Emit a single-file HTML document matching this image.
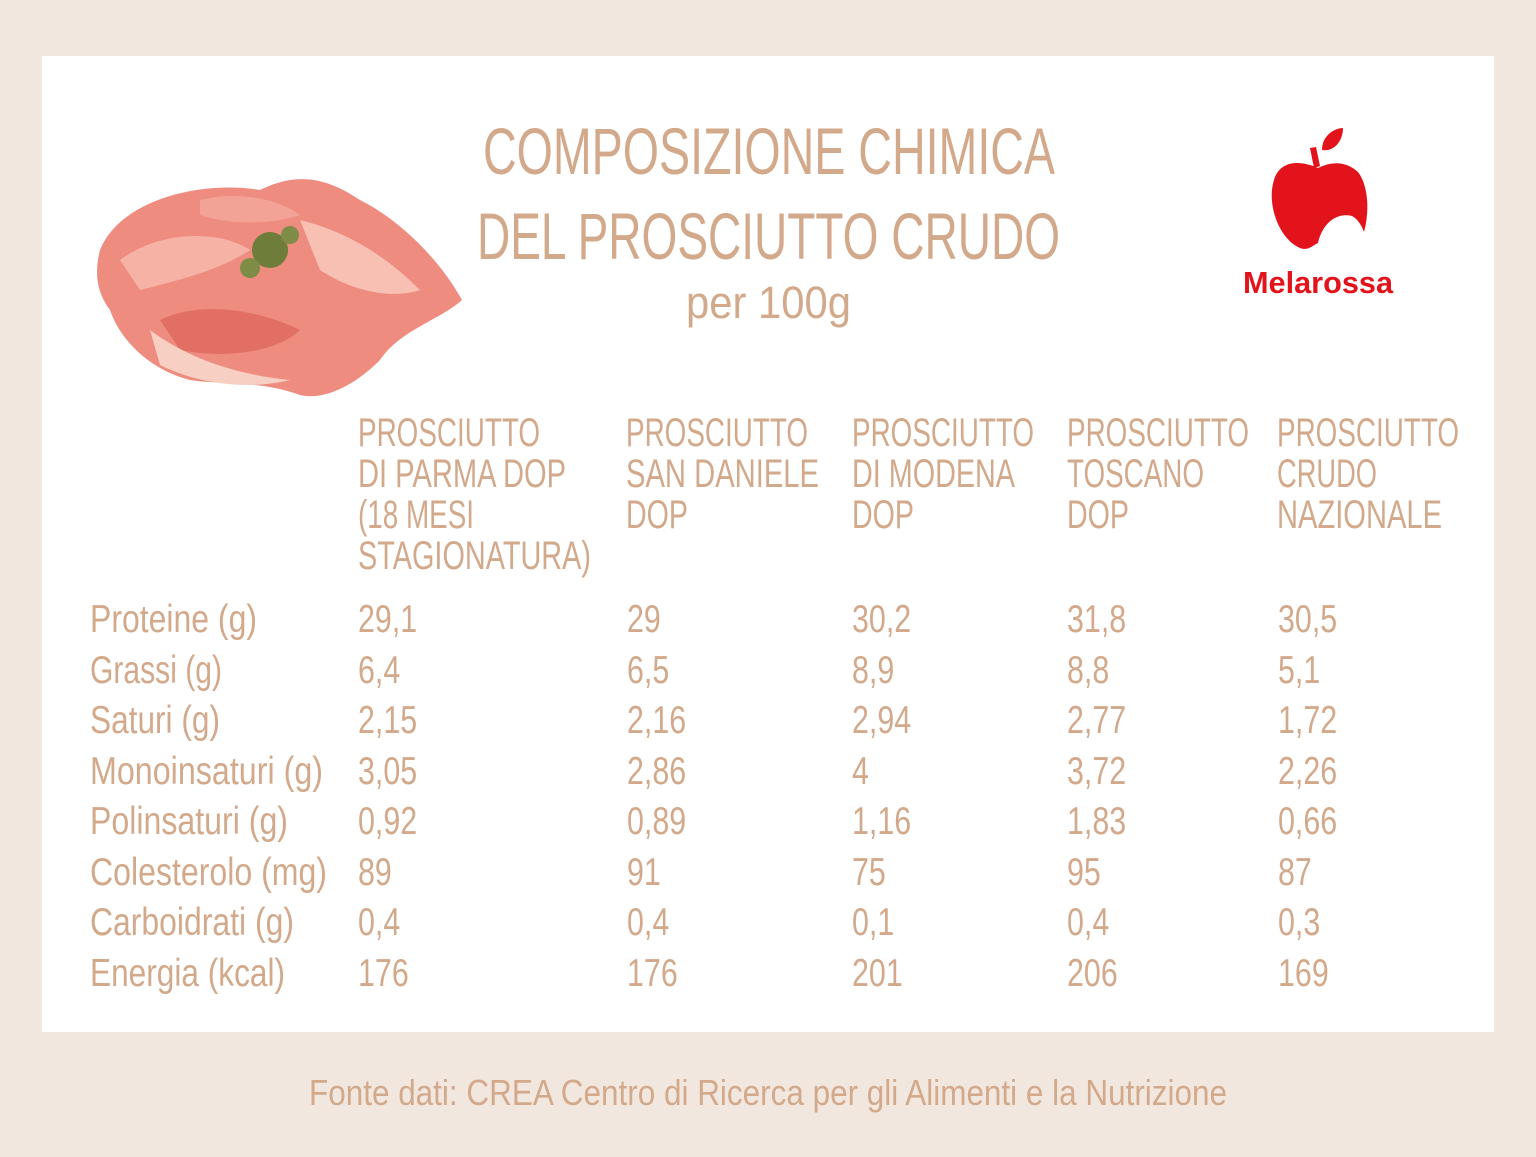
<!DOCTYPE html>
<html><head><meta charset="utf-8"><style>
html,body{margin:0;padding:0;background:#f2e7de;}
svg{display:block}
text{font-family:"Liberation Sans",sans-serif;fill:#d3a98b;}
</style></head><body>
<svg width="1536" height="1157" viewBox="0 0 1536 1157" xmlns="http://www.w3.org/2000/svg">
<rect width="1536" height="1157" fill="#f2e7de"/>
<rect x="42" y="56" width="1452" height="976" fill="#ffffff"/>

<!-- prosciutto illustration -->
<g>
<path d="M100 250 C120 200 200 180 260 190 C300 170 330 180 360 200 C400 220 440 260 462 300 C440 320 400 330 380 360 C350 390 320 400 300 395 C260 380 220 385 190 380 C150 370 120 340 110 310 C95 290 95 270 100 250Z" fill="#ee8c80"/>
<path d="M120 260 C160 230 220 230 250 250 C220 270 180 280 140 290Z" fill="#f6b2a5"/>
<path d="M160 320 C200 300 260 310 300 330 C280 350 230 360 180 350Z" fill="#e26f64"/>
<path d="M300 220 C340 230 380 250 420 290 C390 300 350 290 320 270Z" fill="#f7c0b2"/>
<path d="M200 200 C240 190 280 200 300 215 C270 225 230 225 200 215Z" fill="#f3a395"/>
<path d="M150 330 C190 360 240 375 290 380 C250 390 200 385 160 365Z" fill="#f8cfc3"/>
<circle cx="270" cy="250" r="18" fill="#6e7d3a"/>
<circle cx="250" cy="268" r="10" fill="#7f8c45"/>
<circle cx="290" cy="235" r="9" fill="#7f8c45"/>
</g>

<!-- title -->
<text x="483" y="174" font-size="66" textLength="572" lengthAdjust="spacingAndGlyphs">COMPOSIZIONE CHIMICA</text>
<text x="477" y="259" font-size="66" textLength="583" lengthAdjust="spacingAndGlyphs">DEL PROSCIUTTO CRUDO</text>
<text x="686" y="318" font-size="45" textLength="165" lengthAdjust="spacingAndGlyphs">per 100g</text>

<!-- logo -->
<g fill="#e3131b">
<path d="M1318 168 C1300 160 1280 160 1274 180 C1266 205 1280 240 1300 248 C1308 251 1312 246 1318 243 C1322 225 1335 212 1352 216 C1360 220 1364 232 1364 232 C1370 210 1368 185 1358 172 C1345 160 1330 162 1318 168Z"/>
<path d="M1314 168 L1310 148 L1316 147 L1320 166Z"/>
<path d="M1322 150 C1322 135 1335 128 1343 128 C1343 140 1335 152 1322 150Z"/>
</g>
<text x="1243" y="293" font-size="31" font-weight="bold" style="fill:#e3131b" textLength="150" lengthAdjust="spacingAndGlyphs">Melarossa</text>

<!-- headers -->
<g font-size="40">
<text x="358" y="446" textLength="182" lengthAdjust="spacingAndGlyphs">PROSCIUTTO</text>
<text x="358" y="487" textLength="208" lengthAdjust="spacingAndGlyphs">DI PARMA DOP</text>
<text x="358" y="528" textLength="116" lengthAdjust="spacingAndGlyphs">(18 MESI</text>
<text x="358" y="569" textLength="233" lengthAdjust="spacingAndGlyphs">STAGIONATURA)</text>

<text x="626" y="446" textLength="182" lengthAdjust="spacingAndGlyphs">PROSCIUTTO</text>
<text x="626" y="487" textLength="193" lengthAdjust="spacingAndGlyphs">SAN DANIELE</text>
<text x="626" y="528" textLength="62" lengthAdjust="spacingAndGlyphs">DOP</text>

<text x="852" y="446" textLength="182" lengthAdjust="spacingAndGlyphs">PROSCIUTTO</text>
<text x="852" y="487" textLength="163" lengthAdjust="spacingAndGlyphs">DI MODENA</text>
<text x="852" y="528" textLength="62" lengthAdjust="spacingAndGlyphs">DOP</text>

<text x="1067" y="446" textLength="182" lengthAdjust="spacingAndGlyphs">PROSCIUTTO</text>
<text x="1067" y="487" textLength="137" lengthAdjust="spacingAndGlyphs">TOSCANO</text>
<text x="1067" y="528" textLength="62" lengthAdjust="spacingAndGlyphs">DOP</text>

<text x="1277" y="446" textLength="182" lengthAdjust="spacingAndGlyphs">PROSCIUTTO</text>
<text x="1277" y="487" textLength="100" lengthAdjust="spacingAndGlyphs">CRUDO</text>
<text x="1277" y="528" textLength="165" lengthAdjust="spacingAndGlyphs">NAZIONALE</text>
</g>

<!-- row labels -->
<g font-size="39">
<text x="90" y="632" textLength="167" lengthAdjust="spacingAndGlyphs">Proteine (g)</text>
<text x="90" y="683" textLength="132" lengthAdjust="spacingAndGlyphs">Grassi (g)</text>
<text x="90" y="733" textLength="130" lengthAdjust="spacingAndGlyphs">Saturi (g)</text>
<text x="90" y="784" textLength="233" lengthAdjust="spacingAndGlyphs">Monoinsaturi (g)</text>
<text x="90" y="834" textLength="198" lengthAdjust="spacingAndGlyphs">Polinsaturi (g)</text>
<text x="90" y="885" textLength="237" lengthAdjust="spacingAndGlyphs">Colesterolo (mg)</text>
<text x="90" y="935" textLength="204" lengthAdjust="spacingAndGlyphs">Carboidrati (g)</text>
<text x="90" y="986" textLength="195" lengthAdjust="spacingAndGlyphs">Energia (kcal)</text>
</g>

<!-- values -->
<g font-size="39" transform="scale(1,1)">
<g id="c1">
<text transform="translate(358,632) scale(0.78,1)">29,1</text>
<text transform="translate(358,683) scale(0.78,1)">6,4</text>
<text transform="translate(358,733) scale(0.78,1)">2,15</text>
<text transform="translate(358,784) scale(0.78,1)">3,05</text>
<text transform="translate(358,834) scale(0.78,1)">0,92</text>
<text transform="translate(358,885) scale(0.78,1)">89</text>
<text transform="translate(358,935) scale(0.78,1)">0,4</text>
<text transform="translate(358,986) scale(0.78,1)">176</text>
</g>
<text transform="translate(627,632) scale(0.78,1)">29</text>
<text transform="translate(627,683) scale(0.78,1)">6,5</text>
<text transform="translate(627,733) scale(0.78,1)">2,16</text>
<text transform="translate(627,784) scale(0.78,1)">2,86</text>
<text transform="translate(627,834) scale(0.78,1)">0,89</text>
<text transform="translate(627,885) scale(0.78,1)">91</text>
<text transform="translate(627,935) scale(0.78,1)">0,4</text>
<text transform="translate(627,986) scale(0.78,1)">176</text>

<text transform="translate(852,632) scale(0.78,1)">30,2</text>
<text transform="translate(852,683) scale(0.78,1)">8,9</text>
<text transform="translate(852,733) scale(0.78,1)">2,94</text>
<text transform="translate(852,784) scale(0.78,1)">4</text>
<text transform="translate(852,834) scale(0.78,1)">1,16</text>
<text transform="translate(852,885) scale(0.78,1)">75</text>
<text transform="translate(852,935) scale(0.78,1)">0,1</text>
<text transform="translate(852,986) scale(0.78,1)">201</text>

<text transform="translate(1067,632) scale(0.78,1)">31,8</text>
<text transform="translate(1067,683) scale(0.78,1)">8,8</text>
<text transform="translate(1067,733) scale(0.78,1)">2,77</text>
<text transform="translate(1067,784) scale(0.78,1)">3,72</text>
<text transform="translate(1067,834) scale(0.78,1)">1,83</text>
<text transform="translate(1067,885) scale(0.78,1)">95</text>
<text transform="translate(1067,935) scale(0.78,1)">0,4</text>
<text transform="translate(1067,986) scale(0.78,1)">206</text>

<text transform="translate(1278,632) scale(0.78,1)">30,5</text>
<text transform="translate(1278,683) scale(0.78,1)">5,1</text>
<text transform="translate(1278,733) scale(0.78,1)">1,72</text>
<text transform="translate(1278,784) scale(0.78,1)">2,26</text>
<text transform="translate(1278,834) scale(0.78,1)">0,66</text>
<text transform="translate(1278,885) scale(0.78,1)">87</text>
<text transform="translate(1278,935) scale(0.78,1)">0,3</text>
<text transform="translate(1278,986) scale(0.78,1)">169</text>
</g>

<text x="309" y="1105" font-size="36" textLength="918" lengthAdjust="spacingAndGlyphs">Fonte dati: CREA Centro di Ricerca per gli Alimenti e la Nutrizione</text>
</svg>
</body></html>
